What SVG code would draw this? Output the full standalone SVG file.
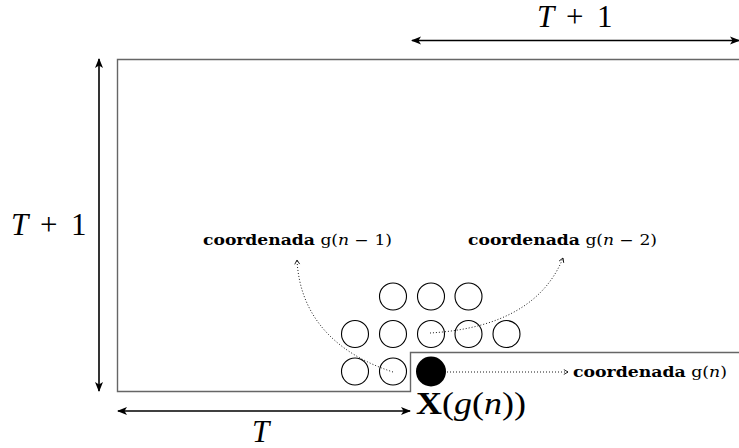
<svg xmlns="http://www.w3.org/2000/svg" width="739" height="448" viewBox="0 0 739 448">
<defs>
<marker id="solid" viewBox="0 0 10 10" refX="9" refY="5" markerWidth="10" markerHeight="10" markerUnits="userSpaceOnUse" orient="auto-start-reverse">
<path d="M0,1 L10,5 L0,9 L2.5,5 Z" fill="#000"/>
</marker>
<marker id="open" viewBox="0 0 10 10" refX="8" refY="5" markerWidth="7" markerHeight="7" markerUnits="userSpaceOnUse" orient="auto">
<path d="M2,1.5 L8,5 L2,8.5" fill="none" stroke="#000" stroke-width="1.2"/>
</marker>
</defs>
<style>
.dim{stroke:#000;stroke-width:1.6;fill:none}
.dot{stroke:#000;stroke-width:0.9;fill:none;stroke-dasharray:1 2}
.ball{fill:#fff;stroke:#000;stroke-width:1.1}
.math{font-family:"Liberation Serif","DejaVu Serif",serif;font-size:31px;fill:#000}
.lab{font-family:"DejaVu Serif","Liberation Serif",serif;font-size:14px;fill:#000}
.b{font-weight:bold}
.i{font-style:italic}
</style>
<g id="region">
<path d="M739,59.5 H117.5 V391.5 H410.5 V352.5 H739" fill="none" stroke="#666" stroke-width="1.4"/>
</g>
<g id="balls">
<circle class="ball" cx="393" cy="296.5" r="13.5"/>
<circle class="ball" cx="431" cy="296.5" r="13.5"/>
<circle class="ball" cx="468.5" cy="296.5" r="13.5"/>
<circle class="ball" cx="355" cy="334" r="13.5"/>
<circle class="ball" cx="393" cy="334" r="13.5"/>
<circle class="ball" cx="431" cy="334" r="13.5"/>
<circle class="ball" cx="468.5" cy="334" r="13.5"/>
<circle class="ball" cx="506.5" cy="334" r="13.5"/>
<circle class="ball" cx="355" cy="371.5" r="13.5"/>
<circle class="ball" cx="393" cy="371.5" r="13.5"/>
</g>
<g id="current">
<circle cx="431" cy="371.5" r="15" fill="#000"/>
</g>
<g id="connectors">
<path class="dim" d="M412,40.5 H739" marker-start="url(#solid)" marker-end="url(#solid)"/>
<path class="dim" d="M99,59 V391" marker-start="url(#solid)" marker-end="url(#solid)"/>
<path class="dim" d="M118,411 H410" marker-start="url(#solid)" marker-end="url(#solid)"/>
<path class="dot" d="M393,372 C340,355 300,320 297,260" marker-end="url(#open)"/>
<path class="dot" d="M430,333 C480,330 540,315 563,258" marker-end="url(#open)"/>
<path class="dot" d="M447,372 H568" marker-end="url(#open)"/>
</g>
<g id="labels">
<text class="math" y="27"><tspan class="i" x="537">T</tspan><tspan x="566">+</tspan><tspan x="597">1</tspan></text>
<text class="math" y="235"><tspan class="i" x="11">T</tspan><tspan x="40">+</tspan><tspan x="71">1</tspan></text>
<text class="math i" x="252" y="442">T</text>
<text class="math" x="416" y="414" textLength="110" lengthAdjust="spacingAndGlyphs"><tspan class="b">X</tspan>(<tspan class="i">g</tspan>(<tspan class="i">n</tspan>))</text>
<text class="lab" x="203" y="245" textLength="189" lengthAdjust="spacingAndGlyphs"><tspan class="b">coordenada</tspan> g(<tspan class="i">n</tspan> − 1)</text>
<text class="lab" x="468" y="245" textLength="189" lengthAdjust="spacingAndGlyphs"><tspan class="b">coordenada</tspan> g(<tspan class="i">n</tspan> − 2)</text>
<text class="lab" x="573" y="377" font-size="13" textLength="154" lengthAdjust="spacingAndGlyphs"><tspan class="b">coordenada</tspan> g(<tspan class="i">n</tspan>)</text>
</g>
</svg>
